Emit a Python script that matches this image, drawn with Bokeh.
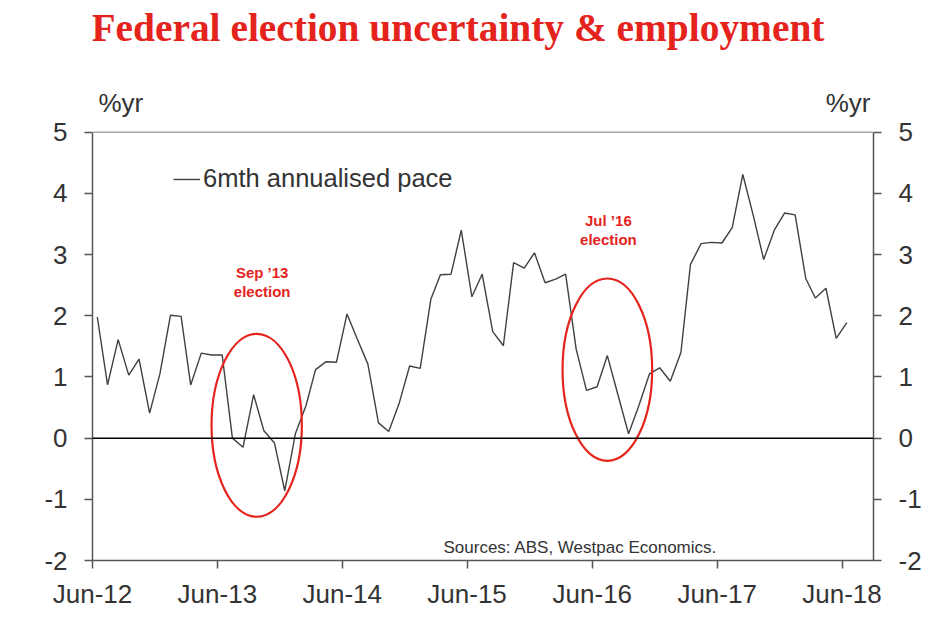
import pandas as pd
from bokeh.plotting import figure
from bokeh.models import (Range1d, LinearAxis, FixedTicker, DatetimeTickFormatter,
                          Span, Label, Legend, LegendItem)
from bokeh.embed import file_html
from bokeh.resources import INLINE

# ---- data ----
start_month = "2012-06-01"
pace = [1.98, 0.87, 1.61, 1.03, 1.29, 0.41, 1.05, 2.01, 1.99, 0.87, 1.39, 1.36,
        1.36, 0.00, -0.15, 0.71, 0.12, -0.08, -0.86, 0.07, 0.53, 1.12, 1.25, 1.24,
        2.03, 1.62, 1.21, 0.25, 0.11, 0.58, 1.18, 1.14, 2.27, 2.67, 2.68, 3.40,
        2.31, 2.68, 1.74, 1.51, 2.87, 2.78, 3.03, 2.54, 2.60, 2.68, 1.45, 0.78,
        0.84, 1.35, 0.71, 0.07, 0.53, 1.05, 1.15, 0.93, 1.40, 2.84, 3.18, 3.20,
        3.19, 3.44, 4.31, 3.63, 2.92, 3.40, 3.68, 3.65, 2.61, 2.29, 2.45, 1.63, 1.89]
series_name = "6mth annualised pace"
tick_years = [2012, 2013, 2014, 2015, 2016, 2017, 2018]
y_ticks = [-2, -1, 0, 1, 2, 3, 4, 5]
y_tick_labels = ["-2", "-1", "0", "1", "2", "3", "4", "5"]
unit_label = "%yr"
title_text = "Federal election uncertainty & employment"
source_text = "Sources: ABS, Westpac Economics."
elections = ["Sep \u201913", "Jul \u201916"]
election_dates = ["2013-09-24", "2016-07-15"]
election_circle_y = [0.21, 1.12]
election_circle_h = [2.99, 2.98]
election_circle_w_days = [264, 262]
election_label_dates = ["2013-10-10", "2016-07-18"]
election_label_y = [2.70, 3.55]

RED = "#E5231D"
TXT = "#333333"
FONT = "Liberation Sans"

Y_MIN, Y_MAX = y_ticks[0], y_ticks[-1]
PLOT_H = 429          # px between -2 and 5
TOP_SPACE = 132       # px above the value 5 (title area, inside the frame)
y_top = Y_MAX + TOP_SPACE * (Y_MAX - Y_MIN) / PLOT_H

dates = pd.date_range(start_month, periods=len(pace), freq="MS") + pd.Timedelta(days=14)

p = figure(width=924, height=611, x_axis_type="datetime",
           output_backend="svg", toolbar_location=None,
           x_range=Range1d(pd.Timestamp("2012-06-01"), pd.Timestamp("2018-09-01")),
           y_range=Range1d(Y_MIN, y_top),
           min_border_left=92, min_border_right=49,
           min_border_top=0, min_border_bottom=50)
p.grid.visible = False
p.outline_line_color = None
p.background_fill_color = "white"
p.border_fill_color = "white"
p.title.text = ""

bottom_axis = p.below[0]
left_axis = p.left[0]
right_axis = LinearAxis()
p.add_layout(right_axis, "right")

def ms(d):
    return int(pd.Timestamp(d).value // 1_000_000)

bottom_axis.ticker = FixedTicker(ticks=[ms(f"{y}-06-01") for y in tick_years])
fmt = "%b-%y"
bottom_axis.formatter = DatetimeTickFormatter(years=fmt, months=fmt, days=fmt, hours=fmt,
                                              minutes=fmt, seconds=fmt, milliseconds=fmt,
                                              microseconds=fmt, minsec=fmt, hourmin=fmt)
for ax in [left_axis, right_axis]:
    ax.ticker = FixedTicker(ticks=y_ticks)
    ax.bounds = (Y_MIN, Y_MAX)
    ax.major_label_overrides = {t: s for t, s in zip(y_ticks, y_tick_labels)}
    ax.major_label_standoff = 17
for ax in [bottom_axis, left_axis, right_axis]:
    ax.axis_line_color = "#555555"
    ax.axis_line_width = 1.5
    ax.major_tick_line_color = "#555555"
    ax.major_tick_line_width = 1.5
    ax.major_tick_out = 8
    ax.major_tick_in = 0
    ax.minor_tick_line_color = None
    ax.major_label_text_font = FONT
    ax.major_label_text_font_size = "26px"
    ax.major_label_text_color = TXT
bottom_axis.major_label_standoff = 10

# top border of the chart area and zero line
p.add_layout(Span(location=Y_MAX, dimension="width", line_color="#a6a6a6", line_width=1.5))
p.add_layout(Span(location=0, dimension="width", line_color="black", line_width=1.5))

# series
r = p.line(dates, pace, line_color="#404040", line_width=1.4)

legend = Legend(items=[LegendItem(label=series_name, renderers=[r])],
                location=(81, 367), padding=0, margin=0, spacing=0,
                glyph_width=27, glyph_height=20, label_standoff=3,
                label_text_font=FONT, label_text_font_size="25.5px",
                label_text_color=TXT, background_fill_alpha=0,
                border_line_color=None)
p.add_layout(legend)

# election circles and labels
for i, name in enumerate(elections):
    p.ellipse(x=pd.Timestamp(election_dates[i]), y=election_circle_y[i],
              width=election_circle_w_days[i] * 86400000.0,
              height=election_circle_h[i], fill_color=None,
              line_color=RED, line_width=2.2)
    for j, txt in enumerate([name, "election"]):
        p.add_layout(Label(x=pd.Timestamp(election_label_dates[i]),
                           y=election_label_y[i] - 0.31 * j, text=txt,
                           text_align="center", text_baseline="middle",
                           text_font=FONT, text_font_style="bold",
                           text_font_size="15px", text_color=RED))

# texts (screen units measured from the frame's bottom-left corner)
p.add_layout(Label(x=-1, y=533, x_units="screen", y_units="screen",
                   text=title_text, text_font="Liberation Serif",
                   text_font_style="bold", text_font_size="39.4px",
                   text_color=RED, text_baseline="alphabetic"))
p.add_layout(Label(x=6, y=457.5, x_units="screen", y_units="screen", text=unit_label,
                   text_font=FONT, text_font_size="26px", text_color=TXT,
                   text_baseline="alphabetic"))
p.add_layout(Label(x=778, y=457.5, x_units="screen", y_units="screen", text=unit_label,
                   text_font=FONT, text_font_size="26px", text_color=TXT,
                   text_baseline="alphabetic", text_align="right"))
p.add_layout(Label(x=351, y=13, x_units="screen", y_units="screen",
                   text=source_text,
                   text_font=FONT, text_font_size="17px", text_color=TXT,
                   text_baseline="middle"))

open("out.html", "w").write(file_html(p, INLINE))
